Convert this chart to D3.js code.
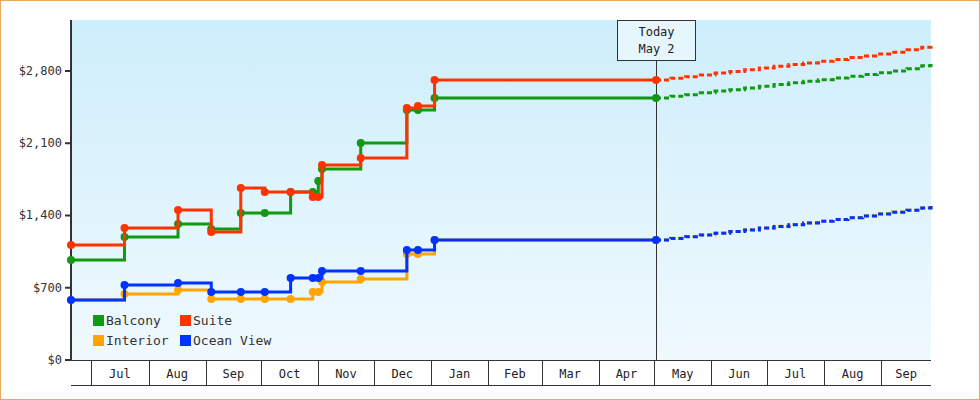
<!DOCTYPE html><html><head><meta charset="utf-8"><script src="https://cdn.jsdelivr.net/npm/d3@7"></script>
<style>body{margin:0;background:#fff}</style></head><body><svg id="c" width="980" height="400"></svg>
<script>
const seriesNames=["Balcony","Suite","Interior","Ocean View"];
const colors=["#119911","#ff3300","#ffa500","#0033ff"];
const histDates=["2023-06-20","2023-07-19","2023-08-17","2023-09-04","2023-09-20","2023-10-03","2023-10-17","2023-10-29","2023-11-01","2023-11-03","2023-11-24","2023-12-19","2023-12-25","2024-01-03","2024-05-02"];
const balcony=[969,1192,1318,1270,1424,1424,1628,1628,1735,1850,2103,2422,2422,2539,2539];
const suite=[1114,1279,1453,1240,1667,1628,1628,1580,1580,1889,1957,2442,2461,2713,2713];
const interior=[581,640,678,591,591,591,591,659,659,756,785,1027,1027,1163,1163];
const oceanView=[581,727,746,659,659,659,795,795,795,862,862,1066,1066,1163,1163];
const fcDates=["2024-05-02","2024-05-10","2024-05-18","2024-05-26","2024-06-03","2024-06-11","2024-06-19","2024-06-27","2024-07-05","2024-07-13","2024-07-21","2024-07-29","2024-08-06","2024-08-14","2024-08-22","2024-08-30","2024-09-07","2024-09-15","2024-09-23","2024-09-28"];
const fcBalcony=[2539,2556,2570,2588,2605,2618,2636,2652,2668,2685,2700,2716,2733,2748,2765,2782,2800,2822,2850,2878];
const fcSuite=[2713,2730,2745,2762,2780,2795,2812,2830,2846,2862,2878,2895,2912,2930,2946,2964,2982,3005,3030,3052];
const fcInterior=[1163,1180,1196,1212,1230,1246,1262,1280,1296,1312,1330,1346,1362,1380,1398,1416,1434,1452,1475,1495];
const fcOceanView=[1163,1178,1194,1210,1228,1244,1260,1278,1294,1310,1328,1344,1360,1378,1396,1414,1432,1450,1472,1492];
const yTicks=[0,700,1400,2100,2800];
const monthTicks=["2023-07-01","2023-08-01","2023-09-01","2023-10-01","2023-11-01","2023-12-01","2024-01-01","2024-02-01","2024-03-01","2024-04-01","2024-05-01","2024-06-01","2024-07-01","2024-08-01","2024-09-01"];
const P=d3.timeParse("%Y-%m-%d");
const hist=[balcony,suite,interior,oceanView], fc=[fcBalcony,fcSuite,fcInterior,fcOceanView];
const svg=d3.select("#c");
const F="DejaVu Sans Mono, monospace";
svg.append("rect").attr("x",0.5).attr("y",0.5).attr("width",979).attr("height",399).attr("fill","#fff").attr("stroke","#e8a862");
const x=d3.scaleTime().domain([P("2023-06-20"),P("2024-09-28")]).range([71,931]);
const y=d3.scaleLinear().domain([0,3294]).range([360,20]);
const defs=svg.append("defs");
const g=defs.append("linearGradient").attr("id","bg").attr("x1",0).attr("y1",0).attr("x2",0).attr("y2",1);
g.append("stop").attr("offset","0").attr("stop-color","#cdeefb");
g.append("stop").attr("offset","1").attr("stop-color","#f0f9fe");
svg.append("rect").attr("x",71).attr("y",20).attr("width",860).attr("height",340).attr("fill","url(#bg)");
svg.append("line").attr("x1",71).attr("x2",71).attr("y1",20).attr("y2",361).attr("stroke","#333").attr("stroke-width",2);
yTicks.forEach(v=>{
 svg.append("line").attr("x1",65).attr("x2",71).attr("y1",y(v)).attr("y2",y(v)).attr("stroke","#333").attr("stroke-width",2);
 svg.append("text").attr("x",62).attr("y",y(v)+4).attr("text-anchor","end").attr("font-family",F).attr("font-size",12).attr("fill","#333").text("$"+d3.format(",")(v));
});
svg.append("line").attr("x1",71).attr("x2",931).attr("y1",360.5).attr("y2",360.5).attr("stroke","#333");
svg.append("line").attr("x1",71).attr("x2",931).attr("y1",385.5).attr("y2",385.5).attr("stroke","#333");
const md=monthTicks.map(P);
md.forEach((d,i)=>{
 const xx=Math.round(x(d))+0.5;
 svg.append("line").attr("x1",xx).attr("x2",xx).attr("y1",360).attr("y2",385).attr("stroke","#333");
 const nx=i<md.length-1?x(md[i+1]):931;
 svg.append("text").attr("x",(x(d)+nx)/2).attr("y",378).attr("text-anchor","middle").attr("font-family",F).attr("font-size",12).attr("fill","#222").text(d3.timeFormat("%b")(d));
});
const tx=Math.round(x(P("2024-05-02")))+0.5;
svg.append("line").attr("x1",tx).attr("x2",tx).attr("y1",60).attr("y2",360).attr("stroke","#333");
svg.append("rect").attr("x",tx-39).attr("y",20.5).attr("width",78).attr("height",40).attr("fill","#e6f6fd").attr("stroke","#333");
svg.append("text").attr("x",tx).attr("y",36).attr("text-anchor","middle").attr("font-family",F).attr("font-size",12).attr("fill","#222").text("Today");
svg.append("text").attr("x",tx).attr("y",53).attr("text-anchor","middle").attr("font-family",F).attr("font-size",12).attr("fill","#222").text("May 2");
const line=d3.line().x(d=>x(d[0])).y(d=>y(d[1])).curve(d3.curveStepAfter);
[2,3,0,1].forEach(i=>{
 const h=histDates.map((d,k)=>[P(d),hist[i][k]]);
 svg.append("path").attr("d",line(h)).attr("fill","none").attr("stroke",colors[i]).attr("stroke-width",3);
 svg.selectAll(null).data(h).enter().append("circle").attr("cx",d=>x(d[0])).attr("cy",d=>y(d[1])).attr("r",4).attr("fill",colors[i]);
 const f=fcDates.map((d,k)=>[P(d),fc[i][k]]);
 svg.append("path").attr("d",line(f)).attr("fill","none").attr("stroke",colors[i]).attr("stroke-width",3).attr("stroke-dasharray","5,3");
});
[[0,93,320],[1,180,320],[2,93,340],[3,180,340]].forEach(([i,lx,ly])=>{
 svg.append("rect").attr("x",lx).attr("y",ly-5).attr("width",11).attr("height",11).attr("fill",colors[i]);
 svg.append("text").attr("x",lx+13).attr("y",ly+5).attr("font-family",F).attr("font-size",13).attr("fill","#333").text(seriesNames[i]);
});
</script></body></html>
